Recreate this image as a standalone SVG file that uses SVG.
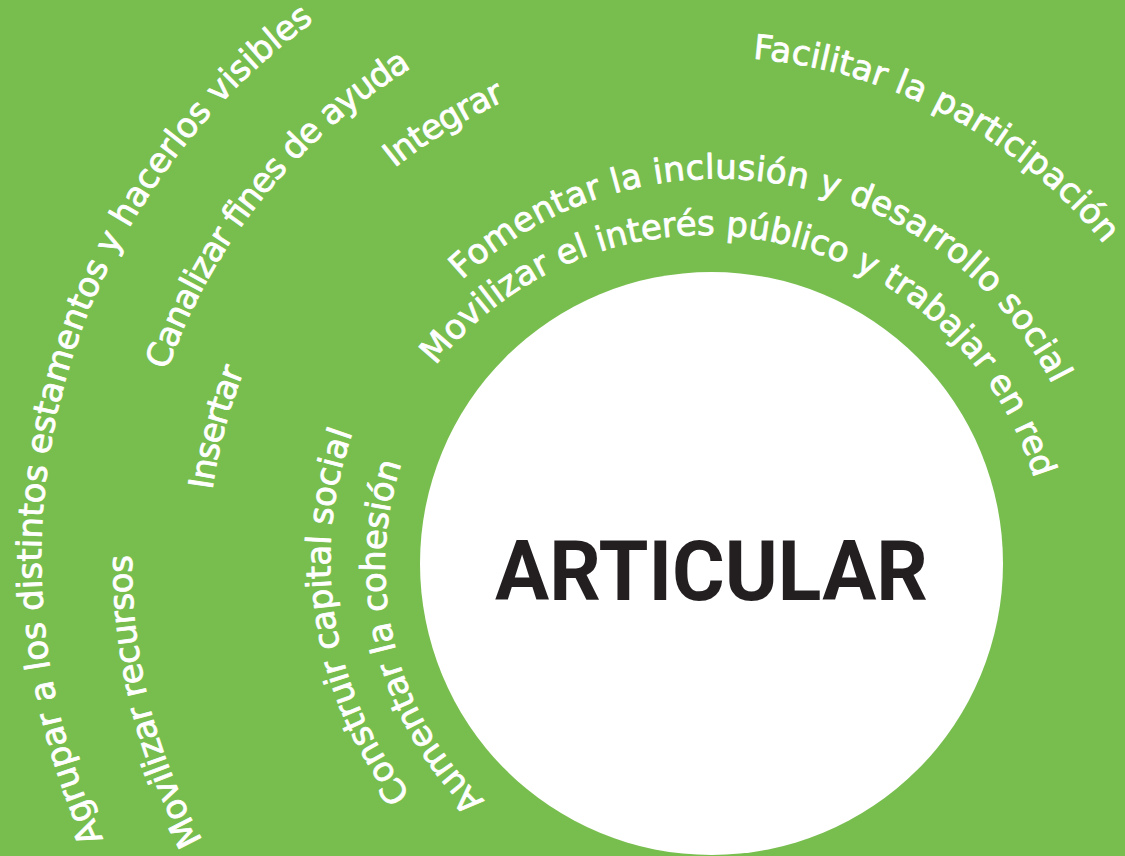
<svg xmlns="http://www.w3.org/2000/svg" width="1125" height="856" viewBox="0 0 1125 856">
<style>
.lbl{font-family:"DejaVu Sans","Liberation Sans",sans-serif;font-size:34px;fill:#ffffff;stroke:#ffffff;stroke-width:0.8px;stroke-linejoin:round;}
.core{font-family:Roboto,"Liberation Sans",sans-serif;font-weight:bold;font-size:84px;fill:#231f20;}
</style>
<defs>
<path id="p1" d="M435.7 365.5 A344 344 0 1 1 970.3 798.5 A344 344 0 1 1 435.7 365.5"/>
<path id="p2" d="M462 280 A374 374 0 1 1 974 826 A374 374 0 1 1 462 280"/>
<path id="p3" d="M752.9 58.7 A506 506 0 1 1 669.1 1067.3 A506 506 0 1 1 752.9 58.7"/>
<path id="p4" d="M394.6 168.1 A506 506 0 1 1 1027.4 957.9 A506 506 0 1 1 394.6 168.1"/>
<path id="p5" d="M212.3 490.2 A504 504 0 1 1 1209.7 635.8 A504 504 0 1 1 212.3 490.2"/>
<path id="p6" d="M167.1 370.4 A577 577 0 1 1 1254.9 755.6 A577 577 0 1 1 167.1 370.4"/>
<path id="p7" d="M202.6 840.2 A579 579 0 1 1 1219.4 285.8 A579 579 0 1 1 202.6 840.2"/>
<path id="p8" d="M103.1 838.9 A666 666 0 1 1 1318.9 295.1 A666 666 0 1 1 103.1 838.9"/>
<path id="p9" d="M410.7 794.2 A379 379 0 1 1 1011.3 331.8 A379 379 0 1 1 410.7 794.2"/>
<path id="p10" d="M484.5 800.5 A326 326 0 1 1 937.5 331.5 A326 326 0 1 1 484.5 800.5"/>
</defs>
<rect id="background" x="0" y="0" width="1125" height="856" fill="#78be4f"/>
<g id="node-articular">
<circle cx="711.5" cy="563.5" r="291.5" fill="#ffffff"/>
<text class="core" x="495" y="600" textLength="433" lengthAdjust="spacingAndGlyphs">ARTICULAR</text>
</g>
<g id="node-movilizar-interes"><text class="lbl"><textPath href="#p1" textLength="748" lengthAdjust="spacing">Movilizar el interés público y trabajar en red</textPath></text></g>
<g id="node-fomentar"><text class="lbl"><textPath href="#p2" textLength="695" lengthAdjust="spacing">Fomentar la inclusión y desarrollo social</textPath></text></g>
<g id="node-facilitar"><text class="lbl"><textPath href="#p3" textLength="408" lengthAdjust="spacing">Facilitar la participación</textPath></text></g>
<g id="node-integrar"><text class="lbl"><textPath href="#p4" textLength="130" lengthAdjust="spacing">Integrar</textPath></text></g>
<g id="node-insertar"><text class="lbl"><textPath href="#p5" textLength="124" lengthAdjust="spacing">Insertar</textPath></text></g>
<g id="node-canalizar"><text class="lbl"><textPath href="#p6" textLength="397" lengthAdjust="spacing">Canalizar fines de ayuda</textPath></text></g>
<g id="node-movilizar-recursos"><text class="lbl"><textPath href="#p7" textLength="297" lengthAdjust="spacing">Movilizar recursos</textPath></text></g>
<g id="node-agrupar"><text class="lbl"><textPath href="#p8" textLength="915" lengthAdjust="spacing">Agrupar a los distintos estamentos y hacerlos visibles</textPath></text></g>
<g id="node-construir"><text class="lbl"><textPath href="#p9" textLength="382" lengthAdjust="spacing">Construir capital social</textPath></text></g>
<g id="node-aumentar"><text class="lbl"><textPath href="#p10" textLength="366" lengthAdjust="spacing">Aumentar la cohesión</textPath></text></g>
<g id="connectors"></g>
</svg>
